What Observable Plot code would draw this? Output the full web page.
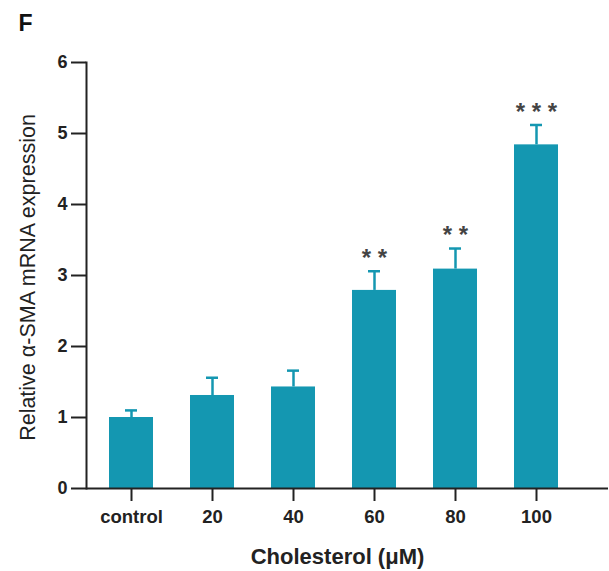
<!DOCTYPE html>
<html><head><meta charset="utf-8">
<script src="https://cdn.jsdelivr.net/npm/d3@7"></script>
<script src="https://cdn.jsdelivr.net/npm/@observablehq/plot@0.6"></script>
<style>body{margin:0;background:#fff;} svg{font-family:"Liberation Sans",Arial,sans-serif;}</style>
</head><body><div id="chart"></div>
<script>
const categories = ["control", "20", "40", "60", "80", "100"];
const means = [1.00, 1.31, 1.43, 2.79, 3.09, 4.84];
const upper = [1.10, 1.56, 1.66, 3.06, 3.38, 5.12];
const stars = ["", "", "", "* *", "* *", "* * *"];
const yTicks = [0, 1, 2, 3, 4, 5, 6];

const data = categories.map((c, i) => ({cat: c, v: means[i], hi: upper[i], s: stars[i]}));
const color = "#1497b1";

const chart = Plot.plot({
  width: 609, height: 571,
  marginLeft: 86, marginRight: 1, marginTop: 62, marginBottom: 83,
  style: {fontFamily: "'Liberation Sans', Arial, sans-serif", background: "#fff", color: "#222"},
  x: {domain: categories, paddingInner: 0.46, paddingOuter: 0.42, align: 0.32, label: null},
  y: {domain: [0, 6], ticks: yTicks, label: null},
  marks: [
    Plot.barY(data, {x: "cat", y: "v", fill: color}),
    Plot.ruleX(data, {x: "cat", y1: "v", y2: "hi", stroke: color, strokeWidth: 2.5}),
    Plot.tickY(data, {x: "cat", y: "hi", stroke: color, strokeWidth: 2.5, insetLeft: 16, insetRight: 16}),
    Plot.text(data, {x: "cat", y: "hi", text: "s", dy: -13, fill: "#444", fontSize: 24, fontWeight: "bold", lineAnchor: "middle"}),
    Plot.axisX({tickSize: 13, tickPadding: 8, fontSize: 18.5, fontWeight: "bold", strokeWidth: 2, stroke: "#222", fill: "#222", label: null}),
    Plot.axisY({ticks: yTicks, tickFormat: "d", tickSize: 15, tickPadding: 4, fontSize: 18, fontWeight: "bold", strokeWidth: 2, stroke: "#222", fill: "#222", label: null}),
    Plot.ruleY([0], {stroke: "#222", strokeWidth: 2}),
    Plot.frame({anchor: "left", stroke: "#222", strokeWidth: 2}),
    Plot.text(["Relative α-SMA mRNA expression"], {frameAnchor: "left", dx: -58, dy: 2, rotate: -90, fontSize: 21.5, fill: "#222", lineAnchor: "middle", textAnchor: "middle"}),
    Plot.text(["Cholesterol (μM)"], {frameAnchor: "bottom", dx: -10, dy: 68, fontSize: 22, fontWeight: "bold", fill: "#222", lineAnchor: "middle"}),
    Plot.text(["F"], {frameAnchor: "top-left", dx: -68, dy: -48, fontSize: 23, fontWeight: "bold", fill: "#111", textAnchor: "start", lineAnchor: "top"})
  ]
});
document.getElementById("chart").append(chart);
</script>
</body></html>
